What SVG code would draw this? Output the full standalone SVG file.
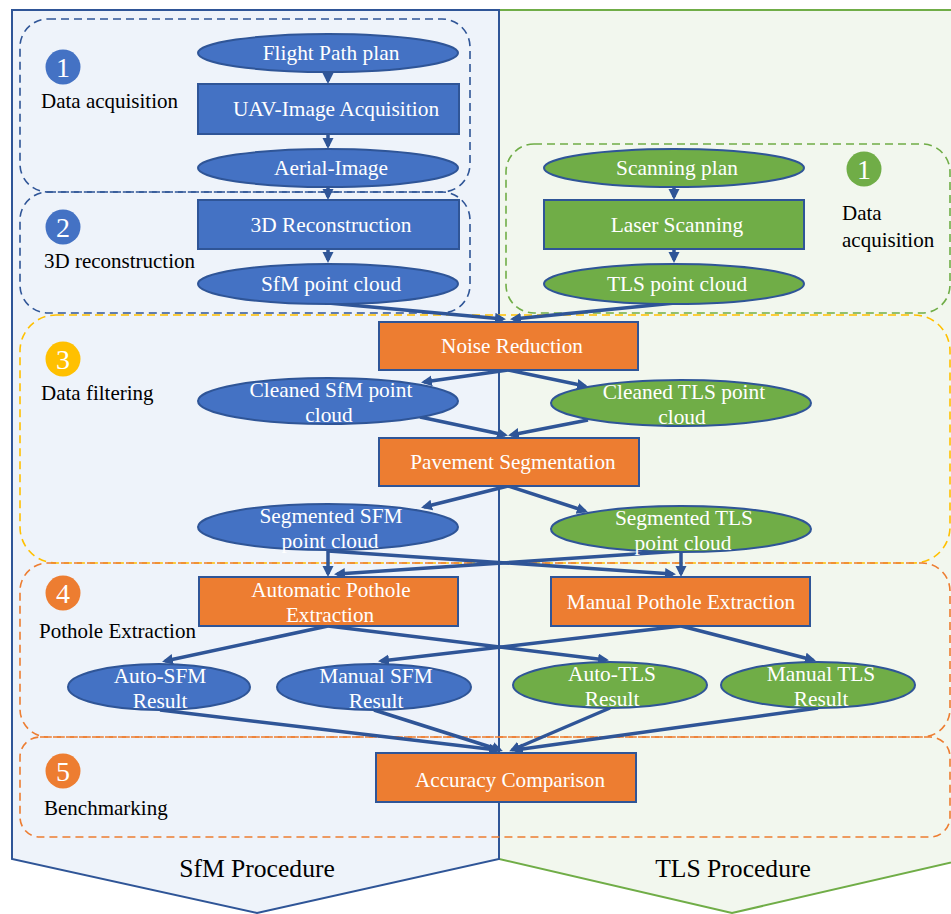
<svg xmlns="http://www.w3.org/2000/svg" width="951" height="914" viewBox="0 0 951 914">
<defs>
<marker id="ah" markerUnits="userSpaceOnUse" markerWidth="12" markerHeight="12" refX="8" refY="5.5" orient="auto">
<path d="M0,0 L11,5.5 L0,11 z" fill="#2f5597"/>
</marker>
<style>
.bg-b{fill:#eef3fa;stroke:#2f5597;stroke-width:2}
.bg-g{fill:#f2f7ee;stroke:#70ad47;stroke-width:2}
.grp{fill:none;stroke-width:1.6;stroke-dasharray:8 5}
.nb{fill:#4472c4;stroke:#2f5597;stroke-width:2}
.ng{fill:#70ad47;stroke:#2f5597;stroke-width:2}
.no{fill:#ed7d31;stroke:#2f5597;stroke-width:2}
.t{font-family:"Liberation Serif","Times New Roman",serif;fill:#fff;font-size:21.4px;text-anchor:middle}
.to{font-family:"Liberation Serif","Times New Roman",serif;fill:#fff;font-size:21.2px;text-anchor:middle}
.lb{font-family:"Liberation Serif","Times New Roman",serif;fill:#000;font-size:21px}
.num{font-family:"Liberation Serif","Times New Roman",serif;fill:#fff;font-size:28px;text-anchor:middle}
.proc{font-family:"Liberation Serif","Times New Roman",serif;fill:#000;font-size:25.6px;text-anchor:middle}
#connectors path{fill:none;stroke:#2f5597;stroke-width:3.5;marker-end:url(#ah)}
</style>
</defs>

<g id="background">
<polygon class="bg-g" points="499,10 966,10 966,859 732,913 499,859"/>
<polygon class="bg-b" points="12,10 499,10 499,859 257,913 12,859"/>
<text class="proc" x="257" y="877">SfM Procedure</text>
<text class="proc" x="733" y="877">TLS Procedure</text>
</g>

<g id="stages">
<rect class="grp" x="20" y="19" width="450" height="173" rx="28" stroke="#2f5597"/>
<rect class="grp" x="20" y="192" width="450" height="121" rx="28" stroke="#2f5597"/>
<rect class="grp" x="506" y="144" width="444" height="169" rx="28" stroke="#70ad47"/>
<rect class="grp" x="20" y="315" width="930" height="248" rx="36" stroke="#ffc000"/>
<rect class="grp" x="20" y="563" width="930" height="174" rx="28" stroke="#ed7d31"/>
<rect class="grp" x="20" y="737" width="930" height="100" rx="20" stroke="#ed7d31"/>

<circle cx="63" cy="67" r="17.5" fill="#4472c4"/><text class="num" x="63" y="77">1</text>
<text class="lb" x="41" y="108">Data acquisition</text>
<circle cx="63" cy="227" r="17.5" fill="#4472c4"/><text class="num" x="63" y="237">2</text>
<text class="lb" x="44" y="268">3D reconstruction</text>
<circle cx="864" cy="169" r="17.5" fill="#70ad47"/><text class="num" x="864" y="179">1</text>
<text class="lb" x="842" y="220">Data</text>
<text class="lb" x="842" y="247">acquisition</text>
<circle cx="63" cy="359" r="17.5" fill="#ffc000"/><text class="num" x="63" y="369">3</text>
<text class="lb" x="41" y="400">Data filtering</text>
<circle cx="63" cy="593" r="17.5" fill="#ed7d31"/><text class="num" x="63" y="603">4</text>
<text class="lb" x="39" y="638">Pothole Extraction</text>
<circle cx="63" cy="771" r="17.5" fill="#ed7d31"/><text class="num" x="63" y="781">5</text>
<text class="lb" x="44" y="815">Benchmarking</text>
</g>

<g id="connectors">
<path d="M328,72 L328,81"/>
<path d="M328,134 L328,146"/>
<path d="M328,187 L328,197"/>
<path d="M328,249 L328,260"/>
<path d="M674,187 L674,197"/>
<path d="M674,249 L674,260"/>
<path d="M328,303 L503,319"/>
<path d="M675,303 L513,319"/>
<path d="M508,370 L424,382"/>
<path d="M508,370 L585,386"/>
<path d="M420,417 L505,435"/>
<path d="M588,420 L511,435"/>
<path d="M508,486 L424,507"/>
<path d="M508,486 L585,511"/>
<path d="M328,551 L328,574"/>
<path d="M328,551 L673,574"/>
<path d="M681,551 L681,574"/>
<path d="M681,551 L337,574"/>
<path d="M328,626 L165,661"/>
<path d="M328,626 L606,660"/>
<path d="M681,626 L381,661"/>
<path d="M681,626 L813,660"/>
<path d="M160,710 L497,750"/>
<path d="M374,710 L500,750"/>
<path d="M610,708 L512,750"/>
<path d="M818,708 L515,750"/>
</g>

<g id="n-flight"><ellipse class="nb" cx="328" cy="53" rx="130" ry="19"/><text class="t" x="331" y="60">Flight Path plan</text></g>
<g id="n-uav"><rect class="nb" x="198" y="84" width="261" height="50"/><text class="t" x="336" y="116">UAV-Image Acquisition</text></g>
<g id="n-aerial"><ellipse class="nb" cx="328" cy="168" rx="130" ry="19"/><text class="t" x="331" y="175">Aerial-Image</text></g>
<g id="n-recon"><rect class="nb" x="198" y="200" width="261" height="49"/><text class="t" x="331" y="232">3D Reconstruction</text></g>
<g id="n-sfmpc"><ellipse class="nb" cx="328" cy="284" rx="130" ry="20"/><text class="t" x="331" y="291">SfM point cloud</text></g>

<g id="n-scanplan"><ellipse class="ng" cx="674" cy="168" rx="130" ry="19"/><text class="t" x="677" y="175">Scanning plan</text></g>
<g id="n-laser"><rect class="ng" x="544" y="200" width="260" height="49"/><text class="t" x="677" y="232">Laser Scanning</text></g>
<g id="n-tlspc"><ellipse class="ng" cx="674" cy="284" rx="130" ry="20"/><text class="t" x="677" y="291">TLS point cloud</text></g>

<g id="n-noise"><rect class="no" x="379" y="322" width="259" height="48"/><text class="to" x="512" y="353">Noise Reduction</text></g>
<g id="n-csfm"><ellipse class="nb" cx="328" cy="401" rx="130" ry="23"/><text class="t" x="331" y="397">Cleaned SfM point</text><text class="t" x="329" y="422">cloud</text></g>
<g id="n-ctls"><ellipse class="ng" cx="681" cy="403" rx="130" ry="23"/><text class="t" x="684" y="399">Cleaned TLS point</text><text class="t" x="682" y="424">cloud</text></g>
<g id="n-pave"><rect class="no" x="379" y="438" width="260" height="48"/><text class="to" x="513" y="469">Pavement Segmentation</text></g>
<g id="n-ssfm"><ellipse class="nb" cx="328" cy="527" rx="130" ry="23"/><text class="t" x="331" y="523">Segmented SFM</text><text class="t" x="330" y="548">point cloud</text></g>
<g id="n-stls"><ellipse class="ng" cx="681" cy="529" rx="130" ry="23"/><text class="t" x="684" y="525">Segmented TLS</text><text class="t" x="683" y="550">point cloud</text></g>

<g id="n-autopot"><rect class="no" x="199" y="577" width="259" height="49"/><text class="to" x="331" y="597">Automatic Pothole</text><text class="to" x="330" y="622">Extraction</text></g>
<g id="n-manpot"><rect class="no" x="551" y="577" width="259" height="49"/><text class="to" x="681" y="609">Manual Pothole Extraction</text></g>

<g id="n-autosfm"><ellipse class="nb" cx="159" cy="687" rx="91" ry="23"/><text class="t" x="160" y="683">Auto-SFM</text><text class="t" x="160" y="708">Result</text></g>
<g id="n-mansfm"><ellipse class="nb" cx="374" cy="687" rx="97" ry="23"/><text class="t" x="376" y="683">Manual SFM</text><text class="t" x="376" y="708">Result</text></g>
<g id="n-autotls"><ellipse class="ng" cx="610" cy="685" rx="97" ry="23"/><text class="t" x="612" y="681">Auto-TLS</text><text class="t" x="612" y="706">Result</text></g>
<g id="n-mantls"><ellipse class="ng" cx="818" cy="685" rx="97" ry="23"/><text class="t" x="821" y="681">Manual TLS</text><text class="t" x="821" y="706">Result</text></g>

<g id="n-acc"><rect class="no" x="376" y="753" width="260" height="49"/><text class="to" x="510" y="787">Accuracy Comparison</text></g>
</svg>
